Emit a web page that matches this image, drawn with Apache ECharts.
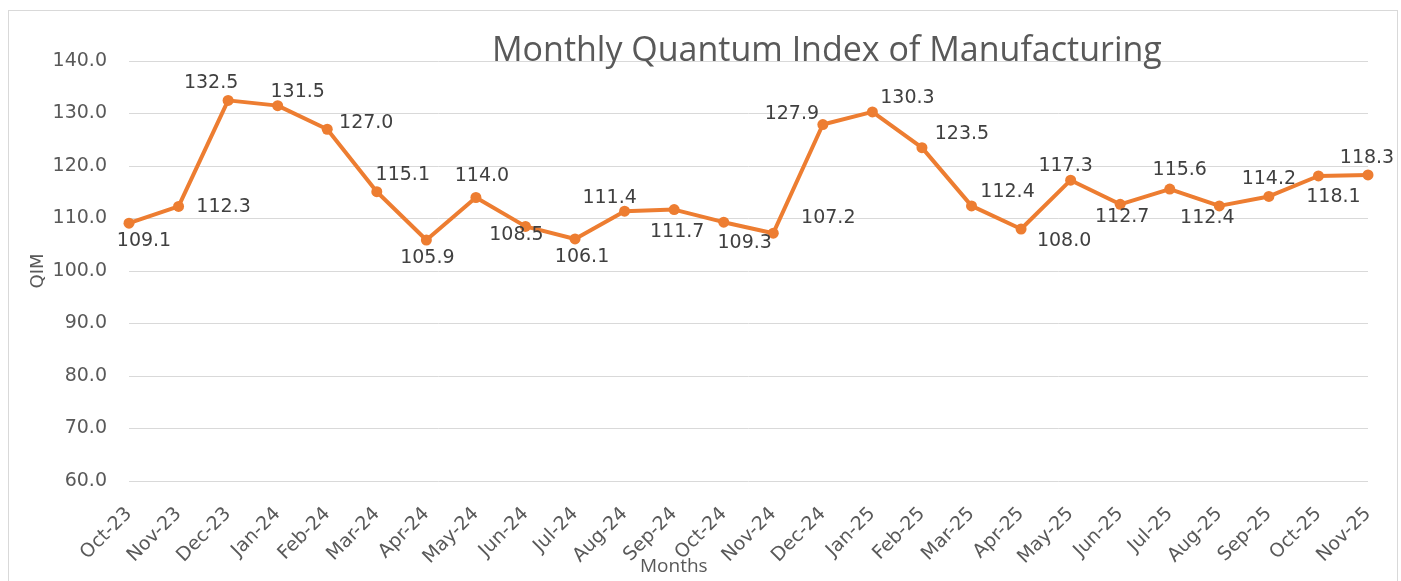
<!DOCTYPE html>
<html>
<head>
<meta charset="utf-8">
<title>Monthly Quantum Index of Manufacturing</title>
<script src="https://cdn.jsdelivr.net/npm/echarts@6/dist/echarts.min.js"></script>
<style>
  html, body { margin: 0; padding: 0; background: #fff; }
  #frame { position: absolute; left: 8px; top: 10px; width: 1390px; height: 580px; border: 1px solid #d9d9d9; box-sizing: border-box; }
  #main { position: absolute; left: 0; top: 0; width: 1401px; height: 581px; }
</style>
</head>
<body>
<div id="frame"></div>
<div id="main"></div>
<script>
// categories and values
const months = ['Oct-23', 'Nov-23', 'Dec-23', 'Jan-24', 'Feb-24', 'Mar-24', 'Apr-24', 'May-24',
  'Jun-24', 'Jul-24', 'Aug-24', 'Sep-24', 'Oct-24', 'Nov-24', 'Dec-24', 'Jan-25', 'Feb-25',
  'Mar-25', 'Apr-25', 'May-25', 'Jun-25', 'Jul-25', 'Aug-25', 'Sep-25', 'Oct-25', 'Nov-25']
const qim = [109.1, 112.3, 132.5, 131.5, 127.0, 115.1, 105.9, 114.0, 108.5, 106.1, 111.4, 111.7,
  109.3, 107.2, 127.9, 130.3, 123.5, 112.4, 108.0, 117.3, 112.7, 115.6, 112.4, 114.2, 118.1, 118.3]
const yTicks = { min: 60, max: 140, step: 10 }

// where each data label sits relative to its point (px), like the Excel layout
const labelShift = [[15, 18], [45, 1], [-17, -17], [20, -14], [39, -6], [26, -17], [1, 18], [6, -21],
  [-9, 9], [7, 18], [-15, -13], [3, 22], [21, 21], [55, -15], [-31, -10], [35, -14], [40, -14],
  [36, -14], [43, 12], [-5, -14], [2, 13], [10, -19], [-12, 12], [0, -17], [15, 21], [-1, -17]]

const chart = echarts.init(document.getElementById('main'))
const option = {
  animation: false,
  textStyle: { fontFamily: 'DejaVu Sans' },
  title: {
    text: 'Monthly Quantum Index of Manufacturing',
    left: 487,
    top: 29,
    textStyle: { fontFamily: 'Open Sans', fontSize: 34, fontWeight: 'normal', color: '#595959' }
  },
  grid: { left: 129, right: 33, top: 61, bottom: 100 },
  xAxis: {
    type: 'category',
    data: months,
    boundaryGap: false,
    axisLine: { show: false },
    axisTick: { show: false },
    axisLabel: { rotate: 45, margin: 30, fontSize: 19, color: '#595959' }
  },
  yAxis: {
    type: 'value',
    name: 'QIM',
    nameLocation: 'middle',
    nameGap: 82,
    nameMoveOverlap: false,
    nameTextStyle: { fontSize: 18, color: '#595959' },
    min: yTicks.min,
    max: yTicks.max,
    interval: yTicks.step,
    axisLabel: { margin: 22, fontSize: 19, color: '#595959', formatter: v => v.toFixed(1) },
    splitLine: { lineStyle: { color: '#d9d9d9', width: 1 } }
  },
  graphic: [{
    type: 'text',
    left: 640,
    top: 557,
    style: { text: 'Months', fontFamily: 'Open Sans', fontSize: 19, fill: '#595959' }
  }],
  series: [{
    type: 'line',
    data: qim.map((v, i) => ({
      value: v,
      label: { offset: labelShift[i] }
    })),
    symbol: 'circle',
    symbolSize: 11,
    lineStyle: { color: '#ED7D31', width: 4 },
    itemStyle: { color: '#ED7D31' },
    label: {
      show: true,
      position: 'inside',
      fontSize: 19,
      color: '#404040',
      formatter: p => p.value.toFixed(1)
    }
  }]
}
chart.setOption(option)
</script>
</body>
</html>
